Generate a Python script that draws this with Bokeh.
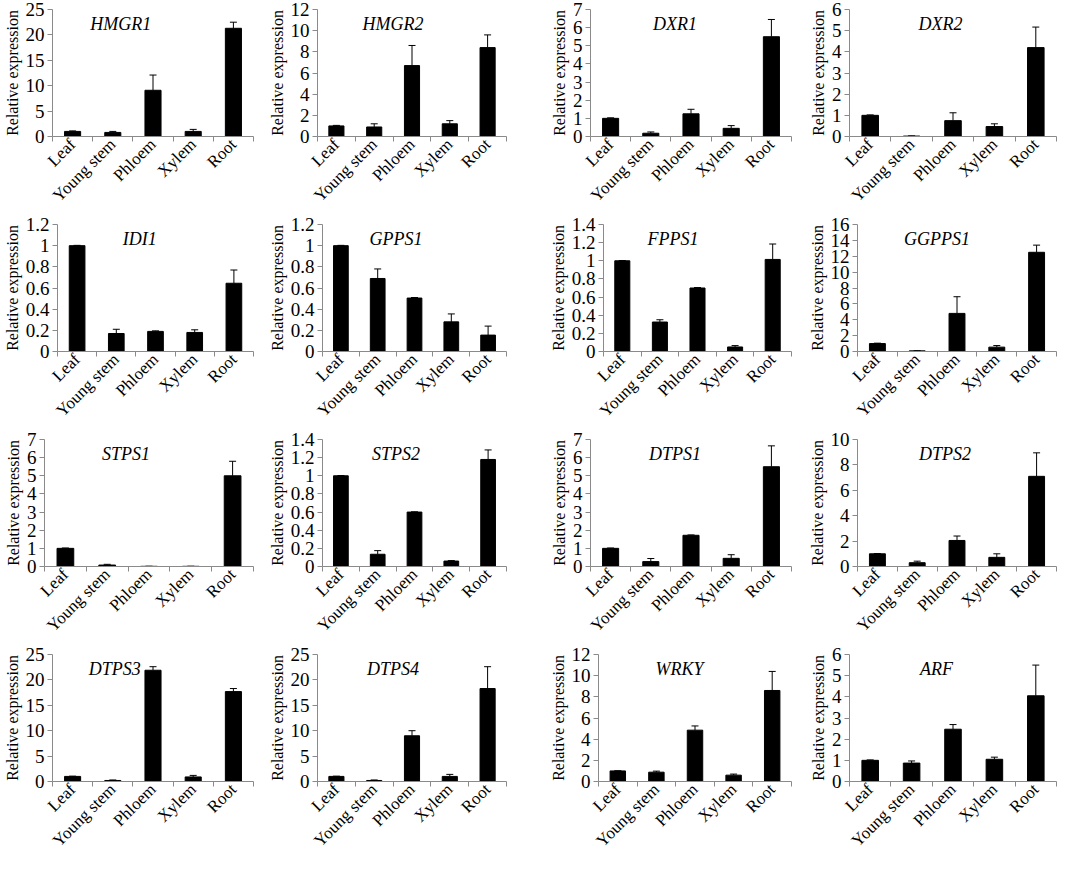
import math
from bokeh.plotting import figure
from bokeh.layouts import row, column
from bokeh.models import ColumnDataSource, Whisker, TeeHead, Label, Range1d, FixedTicker
from bokeh.embed import file_html
from bokeh.resources import INLINE

# ---------------- data ----------------
tissues = ["Leaf", "Young stem", "Phloem", "Xylem", "Root"]

genes = ["HMGR1", "HMGR2", "DXR1", "DXR2",
         "IDI1", "GPPS1", "FPPS1", "GGPPS1",
         "STPS1", "STPS2", "DTPS1", "DTPS2",
         "DTPS3", "DTPS4", "WRKY", "ARF"]

hmgr1_mean = [1.0, 0.8, 9.1, 1.0, 21.3]
hmgr1_err = [0.1, 0.2, 3.0, 0.4, 1.2]
hmgr2_mean = [1.0, 0.9, 6.7, 1.2, 8.4]
hmgr2_err = [0.05, 0.3, 1.9, 0.3, 1.2]
dxr1_mean = [1.0, 0.18, 1.25, 0.45, 5.5]
dxr1_err = [0.03, 0.07, 0.25, 0.15, 0.95]
dxr2_mean = [1.0, 0.02, 0.75, 0.47, 4.2]
dxr2_err = [0.02, 0.01, 0.37, 0.13, 0.97]
idi1_mean = [1.0, 0.17, 0.19, 0.18, 0.645]
idi1_err = [0.003, 0.04, 0.005, 0.025, 0.125]
gpps1_mean = [1.0, 0.69, 0.505, 0.28, 0.155]
gpps1_err = [0.003, 0.09, 0.005, 0.075, 0.085]
fpps1_mean = [1.0, 0.325, 0.70, 0.05, 1.015]
fpps1_err = [0.003, 0.025, 0.005, 0.015, 0.17]
ggpps1_mean = [1.0, 0.08, 4.8, 0.55, 12.5]
ggpps1_err = [0.05, 0.02, 2.1, 0.2, 0.9]
stps1_mean = [1.0, 0.08, 0.01, 0.01, 5.0]
stps1_err = [0.02, 0.04, 0.005, 0.005, 0.8]
stps2_mean = [1.0, 0.135, 0.60, 0.06, 1.18]
stps2_err = [0.003, 0.04, 0.003, 0.005, 0.105]
dtps1_mean = [1.0, 0.27, 1.72, 0.45, 5.5]
dtps1_err = [0.02, 0.17, 0.02, 0.2, 1.15]
dtps2_mean = [1.0, 0.3, 2.05, 0.72, 7.1]
dtps2_err = [0.02, 0.12, 0.35, 0.28, 1.85]
dtps3_mean = [1.0, 0.2, 21.9, 0.9, 17.7]
dtps3_err = [0.05, 0.1, 0.7, 0.3, 0.6]
dtps4_mean = [1.0, 0.2, 9.0, 1.0, 18.3]
dtps4_err = [0.05, 0.1, 1.0, 0.4, 4.3]
wrky_mean = [1.0, 0.88, 4.85, 0.6, 8.6]
wrky_err = [0.02, 0.1, 0.4, 0.1, 1.8]
arf_mean = [1.0, 0.87, 2.47, 1.05, 4.05]
arf_err = [0.02, 0.1, 0.22, 0.1, 1.45]

y_max = [25, 12, 7, 6, 1.2, 1.2, 1.4, 16, 7, 1.4, 7, 10, 25, 25, 12, 6]
y_step = [5, 2, 1, 1, 0.2, 0.2, 0.2, 2, 1, 0.2, 1, 2, 5, 5, 2, 1]

means = [hmgr1_mean, hmgr2_mean, dxr1_mean, dxr2_mean,
         idi1_mean, gpps1_mean, fpps1_mean, ggpps1_mean,
         stps1_mean, stps2_mean, dtps1_mean, dtps2_mean,
         dtps3_mean, dtps4_mean, wrky_mean, arf_mean]
errs = [hmgr1_err, hmgr2_err, dxr1_err, dxr2_err,
        idi1_err, gpps1_err, fpps1_err, ggpps1_err,
        stps1_err, stps2_err, dtps1_err, dtps2_err,
        dtps3_err, dtps4_err, wrky_err, arf_err]

# ---------------- style ----------------
SERIF = "Liberation Serif"
AXIS_GREY = "#8a8a8a"
col_widths = [265, 281, 259, 263]
col_border_right = [12, 40, 14, 12]
row_height = 215
title_frac = [0.34, 0.40, 0.42, 0.44,
              0.42, 0.40, 0.37, 0.40,
              0.39, 0.40, 0.42, 0.44,
              0.31, 0.40, 0.42, 0.42]


def make_panel(idx):
    gene = genes[idx]
    m = means[idx]
    e = errs[idx]
    ymax = y_max[idx]
    step = y_step[idx]
    col = idx % 4
    n = len(tissues)
    xs = [i + 0.5 for i in range(n)]
    src = ColumnDataSource(dict(x=xs, top=m, upper=[a + b for a, b in zip(m, e)]))

    p = figure(width=col_widths[col], height=row_height,
               x_range=Range1d(0, n), y_range=Range1d(0, ymax),
               output_backend="svg", toolbar_location=None,
               min_border_left=44, min_border_right=col_border_right[col],
               min_border_top=9, min_border_bottom=60)
    p.outline_line_color = None
    p.grid.visible = False
    p.background_fill_color = "white"
    p.border_fill_color = "white"

    p.vbar(x="x", top="top", width=0.4, bottom=0, source=src,
           fill_color="black", line_color="black")
    w = Whisker(base="x", lower="top", upper="upper", source=src,
                line_color="black", line_width=1,
                upper_head=TeeHead(size=7, line_color="black", line_width=1),
                lower_head=None)
    p.add_layout(w)

    # x axis
    xa = p.xaxis[0]
    xa.ticker = FixedTicker(ticks=xs, minor_ticks=list(range(n + 1)))
    xa.major_label_overrides = {x: t for x, t in zip(xs, tissues)}
    xa.major_tick_out = 0
    xa.major_tick_in = 0
    xa.minor_tick_out = 5
    xa.minor_tick_in = 0
    xa.minor_tick_line_color = AXIS_GREY
    xa.axis_line_color = AXIS_GREY
    xa.major_label_orientation = math.pi / 4
    xa.major_label_text_font = SERIF
    xa.major_label_text_font_size = "17px"
    xa.major_label_text_color = "black"
    xa.major_label_standoff = 0

    # y axis
    nt = int(round(ymax / step))
    yt = [round(i * step, 3) for i in range(nt + 1)]
    ya = p.yaxis[0]
    ya.ticker = FixedTicker(ticks=yt, minor_ticks=[])
    ya.major_label_overrides = {t: f"{t:g}" for t in yt}
    ya.major_tick_out = 5
    ya.major_tick_in = 0
    ya.minor_tick_out = 0
    ya.minor_tick_in = 0
    ya.axis_line_color = AXIS_GREY
    ya.major_tick_line_color = AXIS_GREY
    ya.major_label_text_font = SERIF
    ya.major_label_text_font_size = "19px"
    ya.major_label_text_color = "black"
    ya.major_label_standoff = 3
    ya.axis_label = "Relative expression"
    ya.axis_label_text_font = SERIF
    ya.axis_label_text_font_size = "16px"
    ya.axis_label_text_font_style = "normal"
    ya.axis_label_text_color = "black"
    ya.axis_label_standoff = 2

    lab = Label(x=title_frac[idx] * n, y=ymax * 0.965, text=gene,
                text_align="center", text_baseline="top",
                text_font=SERIF, text_font_style="italic",
                text_font_size="18px", text_color="black")
    p.add_layout(lab)
    return p


rows = []
for r in range(4):
    rows.append(row(*[make_panel(r * 4 + c) for c in range(4)]))
layout = column(*rows)

open("out.html", "w").write(file_html(layout, INLINE))
